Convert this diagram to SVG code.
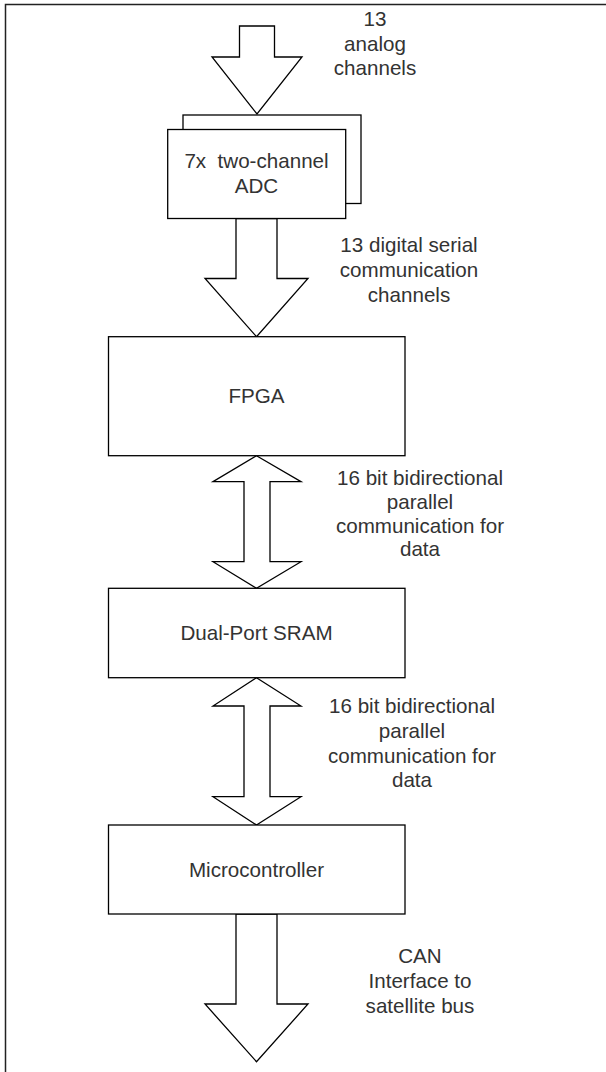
<svg xmlns="http://www.w3.org/2000/svg" width="606" height="1072" viewBox="0 0 606 1072">
  <style>
    .box { fill: #ffffff; stroke: #000000; stroke-width: 1.3; }
    .arrow { fill: #ffffff; stroke: #000000; stroke-width: 1.3; stroke-linejoin: miter; }
    .lbl { font-family: "Liberation Sans", Arial, sans-serif; font-size: 20.6px; fill: #333333; text-anchor: middle; }
  </style>
  <rect x="0" y="0" width="606" height="1072" fill="#ffffff"/>
  <!-- page frame -->
  <rect x="5.5" y="4.5" width="700" height="1200" fill="none" stroke="#222222" stroke-width="1.5"/>

  <g id="connectors">
    <!-- analog input -->
    <polygon class="arrow" points="239.5,26 274.5,26 274.5,57 302,57 257,114 212,57 239.5,57"/>
    <!-- ADC to FPGA -->
    <polygon class="arrow" points="236,218.5 277,218.5 277,278.5 308,278.5 256.5,336.7 205,278.5 236,278.5"/>
    <!-- FPGA <-> SRAM -->
    <polygon class="arrow" points="256.5,455.7 301,481.7 270,481.7 270,561.7 301,561.7 256.5,588.3 213,561.7 244,561.7 244,481.7 213,481.7"/>
    <!-- SRAM <-> Microcontroller -->
    <polygon class="arrow" points="256.5,677.7 301,706 270,706 270,796.7 301,796.7 256.5,825 213,796.7 244,796.7 244,706 213,706"/>
    <!-- CAN output -->
    <polygon class="arrow" points="236,914 277,914 277,1004 308,1004 256.5,1061.7 205,1004 236,1004"/>
  </g>

  <g id="label-analog">
    <text class="lbl" x="375" y="26">13</text>
    <text class="lbl" x="375" y="50.5">analog</text>
    <text class="lbl" x="375" y="75">channels</text>
  </g>

  <g id="adc">
    <rect class="box" x="183" y="115" width="178" height="88.5"/>
    <rect class="box" x="167.7" y="129.5" width="178" height="89"/>
    <text class="lbl" x="256.5" y="168" xml:space="preserve">7x  two-channel</text>
    <text class="lbl" x="256.5" y="193">ADC</text>
  </g>

  <g id="label-serial">
    <text class="lbl" x="409" y="252">13 digital serial</text>
    <text class="lbl" x="409" y="277">communication</text>
    <text class="lbl" x="409" y="302">channels</text>
  </g>

  <g id="fpga">
    <rect class="box" x="108.5" y="336.7" width="296.5" height="119"/>
    <text class="lbl" x="256.5" y="403">FPGA</text>
  </g>

  <g id="label-parallel-1">
    <text class="lbl" x="420" y="485">16 bit bidirectional</text>
    <text class="lbl" x="420" y="509">parallel</text>
    <text class="lbl" x="420" y="533">communication for</text>
    <text class="lbl" x="420" y="556">data</text>
  </g>

  <g id="sram">
    <rect class="box" x="108.5" y="588.3" width="296.5" height="89.4"/>
    <text class="lbl" x="256.5" y="640">Dual-Port SRAM</text>
  </g>

  <g id="label-parallel-2">
    <text class="lbl" x="412" y="713">16 bit bidirectional</text>
    <text class="lbl" x="412" y="738">parallel</text>
    <text class="lbl" x="412" y="763">communication for</text>
    <text class="lbl" x="412" y="787">data</text>
  </g>

  <g id="microcontroller">
    <rect class="box" x="108.5" y="825" width="296.5" height="89"/>
    <text class="lbl" x="256.5" y="876.5">Microcontroller</text>
  </g>

  <g id="label-can">
    <text class="lbl" x="420" y="963">CAN</text>
    <text class="lbl" x="420" y="988">Interface to</text>
    <text class="lbl" x="420" y="1012.5">satellite bus</text>
  </g>
</svg>
